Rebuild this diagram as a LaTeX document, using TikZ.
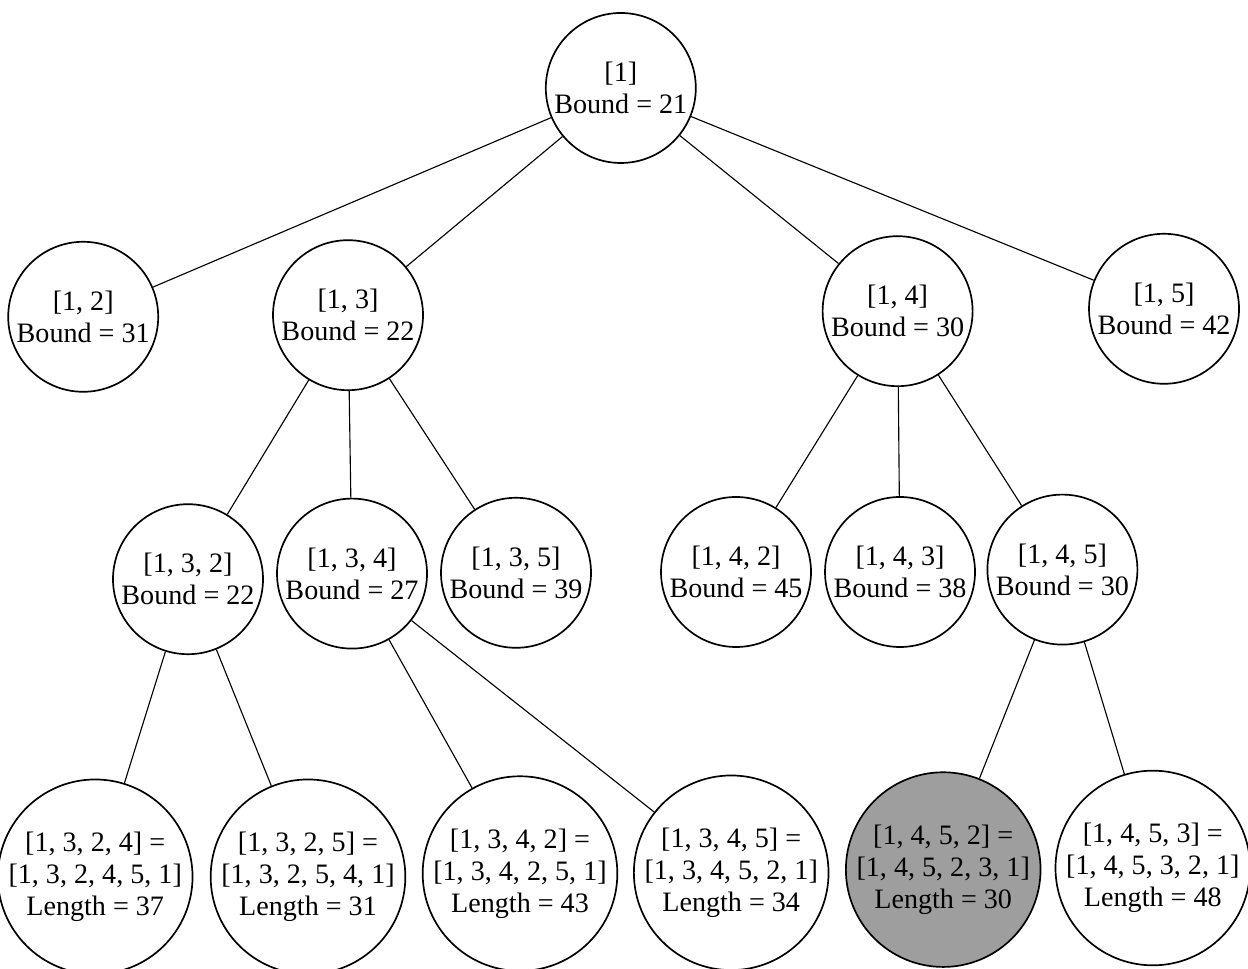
\documentclass[tikz,border=0pt]{standalone}
\usepackage{fontspec}
\setmainfont{Liberation Serif}
\usetikzlibrary{positioning}

\begin{document}
\begin{tikzpicture}[
  bnode/.style={circle, draw, line width=0.6pt, inner sep=0pt, minimum size=1.875cm,
    align=center, font=\fontsize{10}{11.4}\selectfont},
  leaf/.style={bnode, minimum size=2.28cm},
  best/.style={leaf, fill=black!38},
  link/.style={line width=0.4pt}
]
  % Canvas
  \useasboundingbox (0,0) rectangle (15.6,12.1);

  % Root and first level
  \node[bnode] (n1) at (7.76,11.0) {[1]\\Bound = 21};
  \node[bnode] (n12) at (1.04,8.14) {[1, 2]\\Bound = 31};
  \node[bnode] (n13) at (4.35,8.16) {[1, 3]\\Bound = 22};
  \node[bnode] (n14) at (11.22,8.21) {[1, 4]\\Bound = 30};
  \node[bnode] (n15) at (14.55,8.24) {[1, 5]\\Bound = 42};

  % Second level
  \node[bnode] (n132) at (2.35,4.86) {[1, 3, 2]\\Bound = 22};
  \node[bnode] (n134) at (4.40,4.93) {[1, 3, 4]\\Bound = 27};
  \node[bnode] (n135) at (6.45,4.94) {[1, 3, 5]\\Bound = 39};
  \node[bnode] (n142) at (9.20,4.95) {[1, 4, 2]\\Bound = 45};
  \node[bnode] (n143) at (11.25,4.95) {[1, 4, 3]\\Bound = 38};
  \node[bnode] (n145) at (13.28,4.98) {[1, 4, 5]\\Bound = 30};

  % Leaves (complete tours)
  \node[leaf] (n1324) at (1.19,1.14) {[1, 3, 2, 4] =\\{}[1, 3, 2, 4, 5, 1]\\Length = 37};
  \node[leaf] (n1325) at (3.85,1.14) {[1, 3, 2, 5] =\\{}[1, 3, 2, 5, 4, 1]\\Length = 31};
  \node[leaf] (n1342) at (6.50,1.18) {[1, 3, 4, 2] =\\{}[1, 3, 4, 2, 5, 1]\\Length = 43};
  \node[leaf] (n1345) at (9.14,1.19) {[1, 3, 4, 5] =\\{}[1, 3, 4, 5, 2, 1]\\Length = 34};
  \node[best] (n1452) at (11.79,1.23) {[1, 4, 5, 2] =\\{}[1, 4, 5, 2, 3, 1]\\Length = 30};
  \node[leaf] (n1453) at (14.41,1.25) {[1, 4, 5, 3] =\\{}[1, 4, 5, 3, 2, 1]\\Length = 48};

  % Edges
  \foreach \a/\b in {n1/n12, n1/n13, n1/n14, n1/n15,
                     n13/n132, n13/n134, n13/n135,
                     n14/n142, n14/n143, n14/n145,
                     n132/n1324, n132/n1325, n134/n1342, n134/n1345,
                     n145/n1452, n145/n1453} {
    \draw[link] (\a) -- (\b);
  }
\end{tikzpicture}
\end{document}
